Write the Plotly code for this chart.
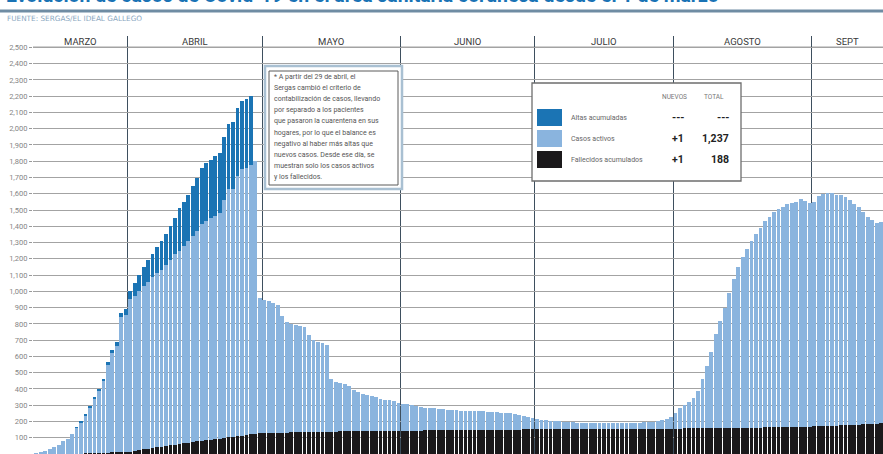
import pandas as pd
import plotly.graph_objects as go

# ---------------- DATA ----------------
fechas = pd.date_range("2020-03-11", "2020-09-16", freq="D") + pd.Timedelta(hours=12)

fallecidos = [
    0, 0, 0, 0, 0, 0, 0, 1, 1, 2, 3, 4, 5, 6, 7, 8, 9, 10, 11, 12, 14,                        # marzo 11-31
    15, 19, 24, 28, 33, 37, 41, 46, 50, 54, 58, 62, 66, 70, 74, 78, 81, 85, 88, 92,
    95, 99, 102, 106, 110, 113, 117, 121, 124, 127,                                            # abril
    128, 129, 130, 131, 131, 132, 133, 133, 134, 135, 135, 136, 136, 137, 137, 138,
    138, 139, 139, 140, 140, 140, 141, 141, 141, 142, 142, 142, 143, 143, 143,                 # mayo
    143, 143, 144, 144, 144, 145, 145, 145, 146, 146, 146, 147, 147, 147, 147, 148,
    148, 148, 148, 149, 149, 149, 149, 150, 150, 150, 150, 151, 151, 151,                      # junio
    151, 151, 152, 152, 152, 152, 152, 153, 153, 153, 153, 153, 153, 154, 154, 154,
    154, 154, 154, 155, 155, 155, 155, 155, 155, 156, 156, 156, 156, 156, 156,                 # julio
    156, 156, 157, 157, 157, 157, 158, 158, 158, 158, 159, 159, 159, 160, 160, 160,
    161, 161, 162, 162, 163, 163, 164, 165, 165, 166, 166, 167, 168, 168, 169,                 # agosto
    170, 171, 172, 173, 174, 175, 176, 177, 178, 179, 181, 182, 183, 185, 187, 188,            # sept 1-16
]

activos = [
    5, 10, 18, 28, 42, 58, 78, 94, 119, 161, 193, 230, 282, 334, 381, 438, 538, 608, 654, 828, 842,
    935, 951, 976, 1002, 1027, 1053, 1069, 1084, 1110, 1136, 1172, 1188, 1214, 1240,
    1266, 1292, 1334, 1350, 1362, 1373, 1385, 1461, 1528, 1524, 1600, 1637, 1643, 1654, 1676, 830,
    817, 811, 800, 784, 719, 678, 667, 662, 656, 645, 595, 564, 554, 543, 533, 322,
    302, 296, 291, 280, 255, 240, 229, 219, 214, 208, 198, 193, 187, 182, 172,
    167, 162, 156, 151, 146, 140, 137, 135, 132, 129, 126, 123, 121, 119, 118, 117,
    116, 114, 114, 111, 109, 107, 106, 102, 100, 96, 90, 84, 77, 71,
    67, 61, 56, 53, 51, 48, 46, 43, 41, 39, 38, 37, 37, 35, 35, 34,
    34, 34, 35, 34, 35, 35, 36, 37, 39, 40, 43, 47, 52, 59, 69,
    99, 124, 143, 163, 188, 228, 302, 382, 472, 582, 661, 741, 831, 915, 990, 1050,
    1099, 1149, 1188, 1228, 1267, 1297, 1326, 1340, 1355, 1369, 1379, 1383, 1397, 1387, 1376,
    1380, 1414, 1428, 1432, 1431, 1420, 1414, 1403, 1382, 1361, 1339, 1308, 1277, 1255, 1236, 1237,
]

# altas acumuladas: only shown until 28 April (then None)
altas = [
    0, 0, 0, 0, 0, 0, 0, 0, 0, 2, 4, 6, 8, 10, 12, 14, 18, 22, 25, 30, 34,
    50, 80, 100, 120, 130, 140, 160, 180, 190, 210, 220, 260, 270, 280,
    310, 330, 345, 355, 360, 365, 370, 390, 400, 410, 420, 420, 420, 425, None, None,
]

meses = ["MARZO", "ABRIL", "MAYO", "JUNIO", "JULIO", "AGOSTO", "SEPT"]
inicio_meses = ["2020-03-01", "2020-04-01", "2020-05-01", "2020-06-01",
                "2020-07-01", "2020-08-01", "2020-09-01", "2020-10-01"]
y_ticks = list(range(100, 2600, 100))

leyenda_nombres = ["Altas acumuladas", "Casos activos", "Fallecidos acumulados"]
leyenda_nuevos = ["---", "+1", "+1"]
leyenda_total = ["---", "1,237", "188"]

titulo = "Evolución de casos de Covid-19 en el área sanitaria coruñesa desde el 1 de marzo"
fuente = "FUENTE: SERGAS/EL IDEAL GALLEGO"
nota = [
    "* A partir del 29 de abril, el",
    "Sergas cambió el criterio de",
    "contabilización de casos, llevando",
    "por separado a los pacientes",
    "que pasaron la cuarentena en sus",
    "hogares, por lo que el balance es",
    "negativo al haber más altas que",
    "nuevos casos. Desde ese día, se",
    "muestran solo los casos activos",
    "y los fallecidos.",
]

# ---------------- STYLE ----------------
C_ALTAS = "#1b74b4"
C_ACT = "#8ab4de"
C_FALL = "#1b191b"
FONT = "Roboto"
W, H = 883, 454
ML, MT = 33, 36
PW, PH = W - ML, H - MT

x_range = [pd.Timestamp("2020-03-10 18:00"), pd.Timestamp("2020-09-16 21:36")]


def px(xp):
    return (xp - ML) / PW


def py(yp):
    return (H - yp) / PH


fig = go.Figure()
fig.add_trace(go.Bar(x=fechas, y=fallecidos, name=leyenda_nombres[2], marker_color=C_FALL,
                     marker_line_width=0))
fig.add_trace(go.Bar(x=fechas, y=activos, name=leyenda_nombres[1], marker_color=C_ACT,
                     marker_line_width=0))
fig.add_trace(go.Bar(x=fechas[:len(altas)], y=altas, name=leyenda_nombres[0], marker_color=C_ALTAS,
                     marker_line_width=0))

month_starts = [pd.Timestamp(m) for m in inicio_meses]

shapes = []
annotations = []

# header line at the top tick value
shapes.append(dict(type="line", xref="paper", yref="y", x0=0, x1=1, y0=y_ticks[-1], y1=y_ticks[-1],
                   line=dict(color="#4a4a4a", width=1.3), layer="below"))

# month labels centred over visible portion of each month
for i, name in enumerate(meses):
    a = max(month_starts[i], x_range[0])
    b = min(month_starts[i + 1], x_range[1])
    mid = a + (b - a) / 2
    annotations.append(dict(x=mid, xref="x", y=py(42), yref="paper", text=name, showarrow=False,
                            font=dict(family=FONT, size=9.5, color="#3a3a3a"), xanchor="center",
                            yanchor="middle"))

# title (partly cut at top), rule and source
annotations.append(dict(x=px(4), y=py(-5), xref="paper", yref="paper", text="<b>" + titulo + "</b>",
                        showarrow=False, xanchor="left", yanchor="middle",
                        font=dict(family=FONT, size=19.4, color="#1a73b5")))
shapes.append(dict(type="rect", xref="paper", yref="paper", x0=px(0), x1=px(W), y0=py(12.5), y1=py(9.5),
                   fillcolor="#6f8ca3", line=dict(width=0), layer="above"))
annotations.append(dict(x=px(5), y=py(18), xref="paper", yref="paper", text=fuente,
                        showarrow=False, xanchor="left", yanchor="middle",
                        font=dict(family="DejaVu Sans", size=7.3, color="#8aa7bf")))

# note box
shapes.append(dict(type="rect", xref="paper", yref="paper", x0=px(265), x1=px(402), y0=py(189), y1=py(66),
                   fillcolor="white", line=dict(color="#a9c0d2", width=2.5), layer="above"))
shapes.append(dict(type="rect", xref="paper", yref="paper", x0=px(269), x1=px(398), y0=py(185), y1=py(71),
                   fillcolor="white", line=dict(color="#5a5a5a", width=1), layer="above"))
for i, line in enumerate(nota):
    annotations.append(dict(x=px(272), y=py(77 + i * 11.1), xref="paper", yref="paper", text=line,
                            showarrow=False, xanchor="left", yanchor="middle",
                            font=dict(family=FONT, size=7, color="#555555")))

# legend box
shapes.append(dict(type="rect", xref="paper", yref="paper", x0=px(532), x1=px(741), y0=py(181), y1=py(83),
                   fillcolor="white", line=dict(color="#6e6e6e", width=1.3), layer="above"))
annotations.append(dict(x=px(689), y=py(97), xref="paper", yref="paper", text="NUEVOS", showarrow=False,
                        xanchor="right", yanchor="middle", font=dict(family=FONT, size=6.5, color="#777")))
annotations.append(dict(x=px(726), y=py(97), xref="paper", yref="paper", text="TOTAL", showarrow=False,
                        xanchor="right", yanchor="middle", font=dict(family=FONT, size=6.5, color="#777")))
sw_colors = [C_ALTAS, C_ACT, C_FALL]
for i in range(3):
    yc = 117.5 + i * 21
    shapes.append(dict(type="rect", xref="paper", yref="paper", x0=px(537), x1=px(562),
                       y0=py(yc + 8.5), y1=py(yc - 8.5), fillcolor=sw_colors[i], line=dict(width=0),
                       layer="above"))
    annotations.append(dict(x=px(569), y=py(yc), xref="paper", yref="paper", text=leyenda_nombres[i],
                            showarrow=False, xanchor="left", yanchor="middle",
                            font=dict(family=FONT, size=7, color="#666")))
    annotations.append(dict(x=px(686), y=py(yc), xref="paper", yref="paper",
                            text="<b>" + leyenda_nuevos[i] + "</b>", showarrow=False, xanchor="right",
                            yanchor="middle", font=dict(family=FONT, size=10.5, color="#222")))
    annotations.append(dict(x=px(731), y=py(yc), xref="paper", yref="paper",
                            text="<b>" + leyenda_total[i] + "</b>", showarrow=False, xanchor="right",
                            yanchor="middle", font=dict(family=FONT, size=10.5, color="#222")))

fig.update_layout(
    width=W, height=H,
    margin=dict(l=ML, r=0, t=MT, b=0, autoexpand=False),
    barmode="stack", bargap=0.15,
    showlegend=False,
    plot_bgcolor="white", paper_bgcolor="white",
    shapes=shapes, annotations=annotations,
    xaxis=dict(range=x_range, type="date", tickvals=month_starts[1:-1], showticklabels=False, ticks="",
               showgrid=True, gridcolor="#3e4f5e", gridwidth=1.2, zeroline=False, showline=False,
               automargin=False),
    yaxis=dict(range=[0, 2570], tickvals=y_ticks, tickformat=",", showgrid=True, gridcolor="#a3a3a3",
               gridwidth=1, ticks="outside", ticklen=3, tickcolor="#999", zeroline=False,
               tickfont=dict(family=FONT, size=7.5, color="#858585"), showline=False,
               automargin=False),
)

fig.write_html("out.html", config={"displayModeBar": False},
               post_script="document.body.style.margin='0px';document.body.style.overflow='hidden';")
